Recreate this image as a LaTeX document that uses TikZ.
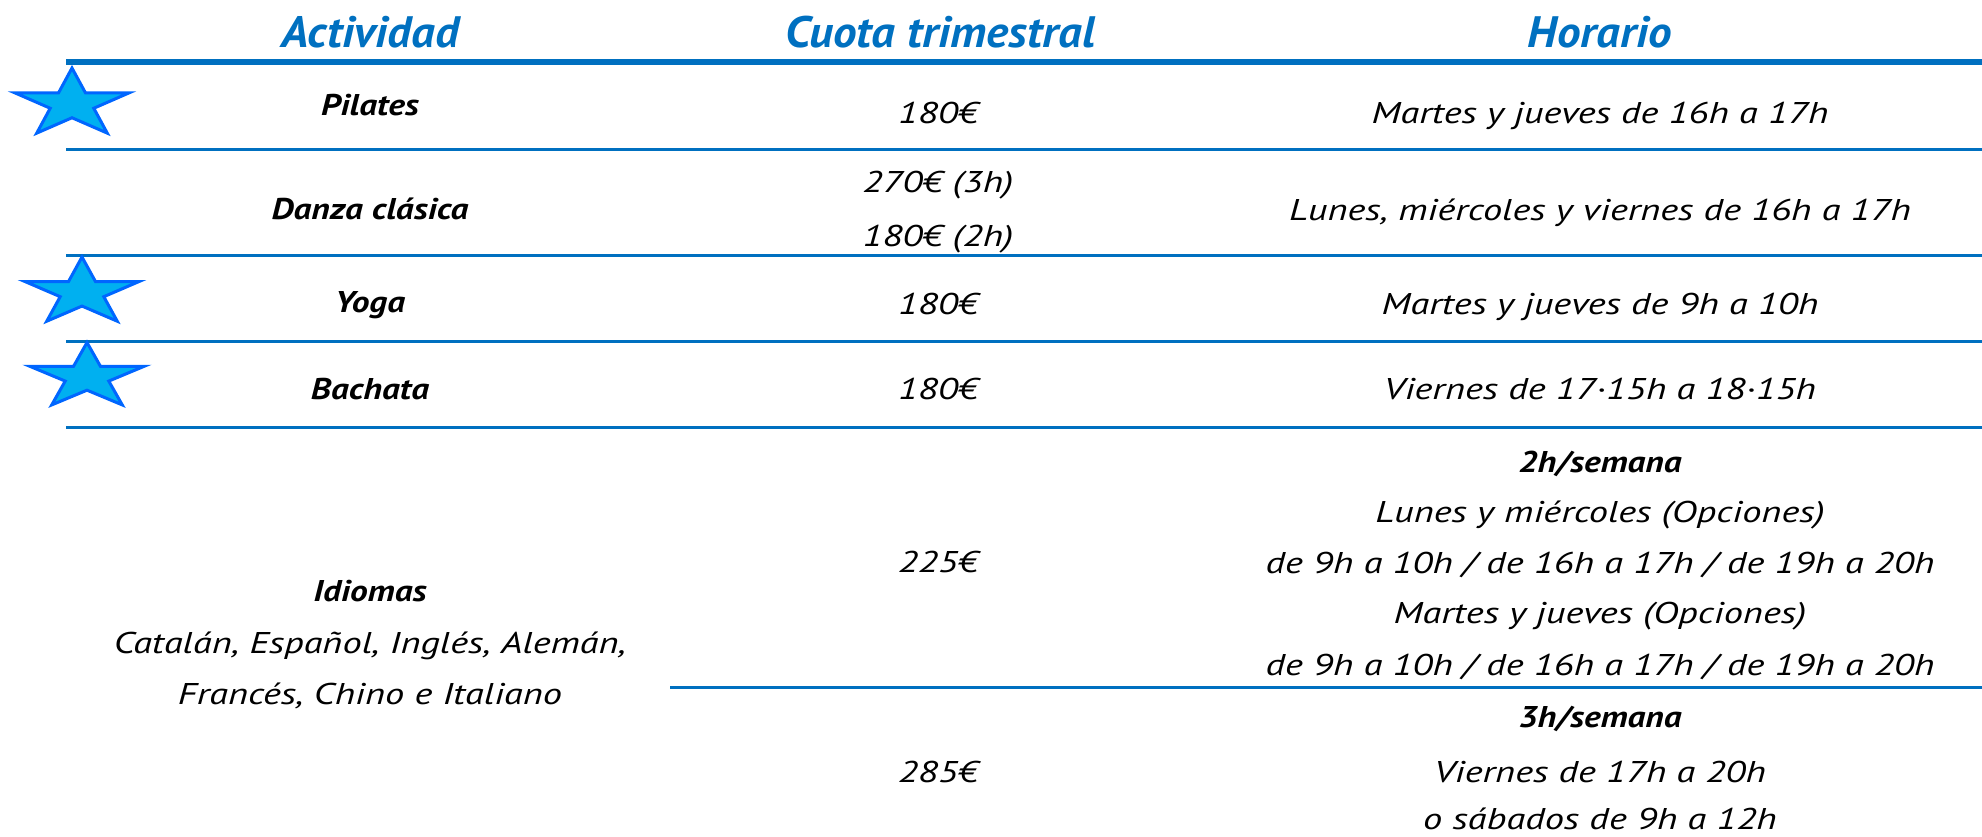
\documentclass[tikz,border=0pt]{standalone}
\usepackage{fontspec}
\setmainfont{PT Sans}
\newfontfamily\bodyfont[FakeStretch=1.28]{PT Sans}
\newfontfamily\boldfont[FakeStretch=1.18]{PT Sans}
\newfontfamily\hdrfont[FakeStretch=1.07]{PT Sans}
\definecolor{hblue}{HTML}{0070C0}
\definecolor{sfill}{HTML}{00B0F0}
\definecolor{sline}{HTML}{0066FF}
\newcommand\mystar[5]{%
  \draw[starsty, shift={(#2,#3)}, xscale=#4, yscale=-#5] (90:1) -- (126:0.382) -- (162:1) -- (198:0.382) -- (234:1) -- (270:0.382) -- (306:1) -- (342:0.382) -- (18:1) -- (54:0.382) -- cycle;
  \coordinate (#1) at (#2,#3);}
\begin{document}
\begin{tikzpicture}[x=1pt,y=-1pt,
  hdr/.style={anchor=base, text=hblue, font=\hdrfont\fontsize{44}{50}\selectfont\bfseries\itshape, inner sep=0pt},
  bod/.style={anchor=base, font=\bodyfont\fontsize{30}{36}\selectfont\itshape, inner sep=0pt},
  bld/.style={anchor=base, font=\boldfont\fontsize{30}{36}\selectfont\bfseries\itshape, inner sep=0pt},
  rowrule/.style={draw=hblue, line width=3pt},
  toprule/.style={draw=hblue, line width=6pt},
  starsty/.style={fill=sfill, draw=sline, line width=3pt, line join=miter}]
\useasboundingbox (0,0) rectangle (1982,836);

% rules
\coordinate (r0a) at (66,62);  \coordinate (r0b) at (1982,62);
\coordinate (r1a) at (66,149); \coordinate (r1b) at (1982,149);
\coordinate (r2a) at (66,255); \coordinate (r2b) at (1982,255);
\coordinate (r3a) at (66,341); \coordinate (r3b) at (1982,341);
\coordinate (r4a) at (66,427); \coordinate (r4b) at (1982,427);
\coordinate (r5a) at (670,687); \coordinate (r5b) at (1982,687);
\draw[toprule] (r0a) -- (r0b);
\draw[rowrule] (r1a) -- (r1b);
\draw[rowrule] (r2a) -- (r2b);
\draw[rowrule] (r3a) -- (r3b);
\draw[rowrule] (r4a) -- (r4b);
\draw[rowrule] (r5a) -- (r5b);

% stars
\mystar{s1}{72}{104}{60}{36}
\mystar{s2}{82}{292.5}{60}{35.5}
\mystar{s3}{87}{377}{60}{34.5}

% headers
\node[hdr] (h1) at (370,47) {Actividad};
\node[hdr] (h2) at (940,47) {Cuota trimestral};
\node[hdr] (h3) at (1600,47) {Horario};

% row 1
\node[bld] (a1) at (370,115) {Pilates};
\node[bod] (c1) at (938,123) {180€};
\node[bod] (t1) at (1600,123) {Martes y jueves de 16h a 17h};

% row 2
\node[bld] (a2) at (370,219) {Danza clásica};
\node[bod] (c2a) at (938,192) {270€ (3h)};
\node[bod] (c2b) at (938,246) {180€ (2h)};
\node[bod] (t2) at (1600,220) {Lunes, miércoles y viernes de 16h a 17h};

% row 3
\node[bld] (a3) at (370,312) {Yoga};
\node[bod] (c3) at (938,314) {180€};
\node[bod] (t3) at (1600,314) {Martes y jueves de 9h a 10h};

% row 4
\node[bld] (a4) at (370,399) {Bachata};
\node[bod] (c4) at (938,399) {180€};
\node[bod] (t4) at (1600,399) {Viernes de 17·15h a 18·15h};

% row 5
\node[bld] (a5) at (370,601) {Idiomas};
\node[bod] (a5b) at (370,653) {Catalán, Español, Inglés, Alemán,};
\node[bod] (a5c) at (370,704) {Francés, Chino e Italiano};
\node[bod] (c5) at (938,572) {225€};
\node[bld] (t5a) at (1600,472) {2h/semana};
\node[bod] (t5b) at (1600,522) {Lunes y miércoles (Opciones)};
\node[bod] (t5c) at (1600,573) {de 9h a 10h / de 16h a 17h / de 19h a 20h};
\node[bod] (t5d) at (1600,623) {Martes y jueves (Opciones)};
\node[bod] (t5e) at (1600,675) {de 9h a 10h / de 16h a 17h / de 19h a 20h};
\node[bod] (c6) at (938,782) {285€};
\node[bld] (t6a) at (1600,727) {3h/semana};
\node[bod] (t6b) at (1600,782) {Viernes de 17h a 20h};
\node[bod] (t6c) at (1600,829) {o sábados de 9h a 12h};
\end{tikzpicture}
\end{document}
